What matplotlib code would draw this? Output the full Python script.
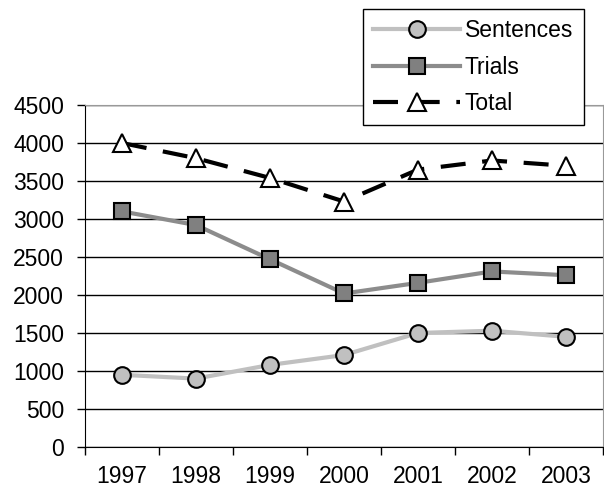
import matplotlib
matplotlib.use("Agg")
import matplotlib.pyplot as plt
from matplotlib.ticker import FixedLocator, NullFormatter

plt.rcParams["font.family"] = ["Liberation Sans", "DejaVu Sans"]

years = ["1997", "1998", "1999", "2000", "2001", "2002", "2003"]
sentences = [950, 900, 1080, 1210, 1500, 1530, 1450]
trials = [3100, 2920, 2470, 2020, 2160, 2310, 2260]
total = [4000, 3800, 3540, 3230, 3650, 3770, 3700]
yticks = list(range(0, 5000, 500))

fig = plt.figure(figsize=(6.04, 4.94), dpi=100)
ax = fig.add_axes([85 / 604, 47 / 494, 518 / 604, 342 / 494])

x = list(range(len(years)))
ax.plot(x, sentences, color="#c0c0c0", lw=3, marker="o", ms=12,
        mfc="#c0c0c0", mec="black", mew=1.5, label="Sentences", zorder=3)
ax.plot(x, trials, color="#8c8c8c", lw=3, marker="s", ms=12,
        mfc="#808080", mec="black", mew=1.5, label="Trials", zorder=3)
ax.plot(x, total, color="black", lw=3, dashes=(6, 4), marker="^", ms=13,
        mfc="white", mec="black", mew=1.5, label="Total", zorder=4)

ax.set_xlim(-0.5, len(years) - 0.5)
ax.set_ylim(0, 4500)
ax.set_yticks(yticks)
ax.tick_params(axis="y", labelsize=16.5, length=6, width=1, direction="out", pad=9)
ax.yaxis.grid(True, color="black", lw=1)
ax.set_axisbelow(True)

# category axis: ticks at boundaries, labels at centres
ax.xaxis.set_major_locator(FixedLocator([i - 0.5 for i in range(len(years) + 1)]))
ax.xaxis.set_major_formatter(NullFormatter())
ax.xaxis.set_minor_locator(FixedLocator(x))
ax.set_xticklabels(years, minor=True)
ax.tick_params(axis="x", which="major", length=6, width=1)
ax.tick_params(axis="x", which="minor", length=0, labelsize=16.5, pad=13)

for s in ["top", "right"]:
    ax.spines[s].set_color("#999999")
ax.spines["left"].set_color("black")
ax.spines["bottom"].set_color("black")

leg = fig.legend(loc="upper left", bbox_to_anchor=(363 / 604, 1 - 9 / 494),
                 fontsize=16.5, frameon=True, fancybox=False, framealpha=1,
                 edgecolor="black", handlelength=3.8, handletextpad=0.2,
                 labelspacing=0.58, borderpad=0.45, borderaxespad=0)
leg.get_frame().set_linewidth(1)

fig.savefig("out.png", dpi=100)
